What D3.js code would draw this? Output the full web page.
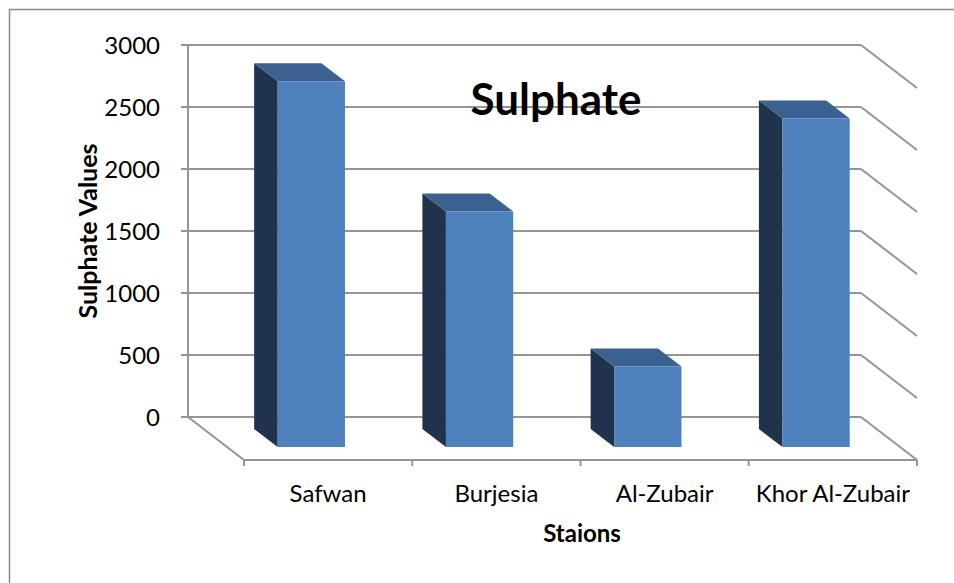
<!DOCTYPE html>
<html>
<head>
<meta charset="utf-8">
<script src="https://cdn.jsdelivr.net/npm/d3@7"></script>
<style>
  html, body { margin: 0; padding: 0; background: #fff; }
  svg { display: block; }
  text { font-family: Lato, "Open Sans", sans-serif; fill: #000; }
</style>
</head>
<body>
<svg id="chart" width="954" height="583"></svg>
<script>
const categories = ["Safwan", "Burjesia", "Al-Zubair", "Khor Al-Zubair"];
const sulphateValues = [2950, 1900, 650, 2650];
const yTickValues = [0, 500, 1000, 1500, 2000, 2500, 3000];
const chartTitle = "Sulphate";
const yAxisTitle = "Sulphate Values";
const xAxisTitle = "Staions";

const svg = d3.select("#chart");

// outer chart border
svg.append("rect")
  .attr("x", 9.5).attr("y", 9.5)
  .attr("width", 980).attr("height", 620)
  .attr("fill", "none").attr("stroke", "#8a8a8a").attr("stroke-width", 1.5);

// scales (back wall)
const x = d3.scaleBand().domain(categories).range([188, 861])
  .paddingInner(0.6).paddingOuter(0.3);
const y = d3.scaleLinear().domain([0, 3000]).range([417, 45]);
const depth = { dx: 56, dy: 43 };
const proj = (px, v, t) => [px + depth.dx * t, y(v) + depth.dy * t];
const barT0 = 0.28, barT1 = 0.70;

const gridColor = "#959595";
const g = svg.append("g");
const xLeft = x.range()[0], xRight = x.range()[1];

// back wall gridlines + right side-wall diagonals
yTickValues.forEach(v => {
  g.append("line")
    .attr("x1", xLeft).attr("x2", xRight)
    .attr("y1", y(v)).attr("y2", y(v))
    .attr("stroke", gridColor).attr("stroke-width", 2);
  const a = proj(xRight, v, 0), b = proj(xRight, v, 1);
  g.append("line")
    .attr("x1", a[0]).attr("y1", a[1]).attr("x2", b[0]).attr("y2", b[1])
    .attr("stroke", gridColor).attr("stroke-width", 2);
});

// vertical axis line on back wall
g.append("line")
  .attr("x1", xLeft).attr("x2", xLeft)
  .attr("y1", y(0)).attr("y2", y(3000))
  .attr("stroke", gridColor).attr("stroke-width", 2);

// y ticks
yTickValues.forEach(v => {
  g.append("line")
    .attr("x1", xLeft - 7).attr("x2", xLeft)
    .attr("y1", y(v)).attr("y2", y(v))
    .attr("stroke", gridColor).attr("stroke-width", 2);
  g.append("text")
    .attr("x", 160).attr("y", y(v))
    .attr("dy", "0.36em")
    .attr("text-anchor", "end")
    .attr("font-size", 24)
    .text(v);
});

// floor: left diagonal and front edge
{
  const a = proj(xLeft, 0, 0), b = proj(xLeft, 0, 1), c = proj(xRight, 0, 1);
  g.append("polyline")
    .attr("points", [a, b, c].map(p => p.join(",")).join(" "))
    .attr("fill", "none").attr("stroke", gridColor).attr("stroke-width", 2);
  const bounds = categories.map(c => x(c) - (x.step() - x.bandwidth()) / 2);
  bounds.push(xRight);
  bounds.forEach(bx => {
    const p = proj(bx, 0, 1);
    g.append("line")
      .attr("x1", p[0]).attr("x2", p[0])
      .attr("y1", p[1]).attr("y2", p[1] + 6)
      .attr("stroke", gridColor).attr("stroke-width", 2);
  });
}

// bars
const bars = g.append("g");
categories.forEach((c, i) => {
  const v = sulphateValues[i];
  const x0 = x(c), x1 = x(c) + x.bandwidth();
  const side = [proj(x0, 0, barT0), proj(x0, v, barT0), proj(x0, v, barT1), proj(x0, 0, barT1)];
  const top = [proj(x0, v, barT0), proj(x1, v, barT0), proj(x1, v, barT1), proj(x0, v, barT1)];
  const front = [proj(x0, 0, barT1), proj(x1, 0, barT1), proj(x1, v, barT1), proj(x0, v, barT1)];
  const pts = arr => arr.map(p => p.join(",")).join(" ");
  bars.append("polygon").attr("points", pts(side)).attr("fill", "#1f334d");
  bars.append("polygon").attr("points", pts(top)).attr("fill", "#3b6190");
  bars.append("polygon").attr("points", pts(front)).attr("fill", "#4f81bd");
});

// x category labels (centered on front band)
categories.forEach(c => {
  const cx = x(c) + x.bandwidth() / 2 + depth.dx;
  svg.append("text")
    .attr("x", cx).attr("y", 502)
    .attr("text-anchor", "middle")
    .attr("font-size", 24)
    .text(c);
});

// titles
svg.append("text")
  .attr("x", 556).attr("y", 115)
  .attr("text-anchor", "middle")
  .attr("font-size", 44).attr("font-weight", "bold")
  .text(chartTitle);

svg.append("text")
  .attr("x", 582).attr("y", 542)
  .attr("text-anchor", "middle")
  .attr("font-size", 24).attr("font-weight", "bold")
  .text(xAxisTitle);

svg.append("text")
  .attr("transform", "translate(97,231) rotate(-90)")
  .attr("text-anchor", "middle")
  .attr("font-size", 25).attr("font-weight", "bold")
  .text(yAxisTitle);
</script>
</body>
</html>
